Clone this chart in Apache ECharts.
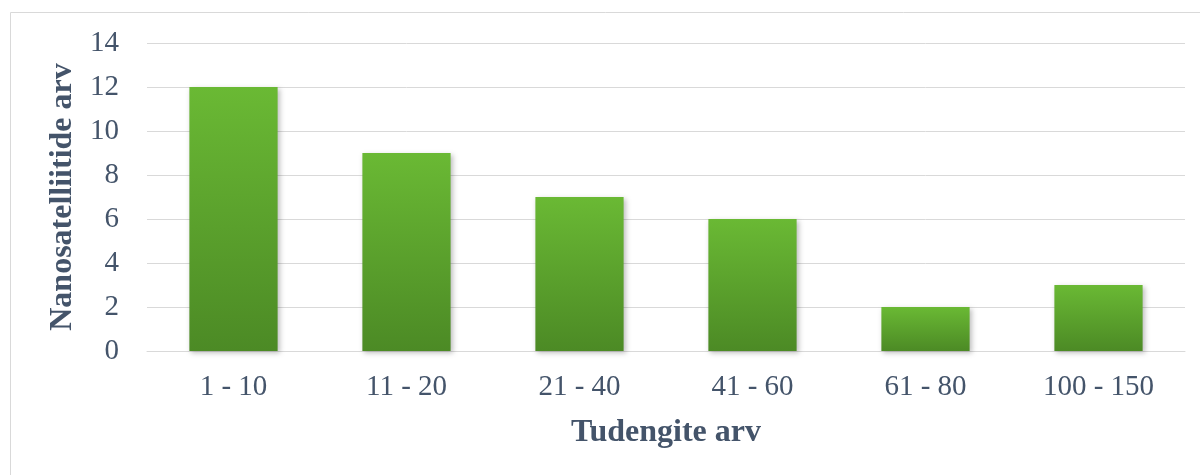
<!DOCTYPE html>
<html><head><meta charset="utf-8">
<script src="https://cdn.jsdelivr.net/npm/echarts@6/dist/echarts.min.js"></script>
<style>html,body{margin:0;padding:0;background:#fff}#c{width:1200px;height:475px}</style>
</head><body><div id="c"></div>
<script>
const categories = ['1 - 10', '11 - 20', '21 - 40', '41 - 60', '61 - 80', '100 - 150'];
const values = [12, 9, 7, 6, 2, 3];
const yTicks = {min: 0, max: 14, interval: 2};
const xAxisTitle = 'Tudengite arv';
const yAxisTitle = 'Nanosatelliitide arv';

const chart = echarts.init(document.getElementById('c'));
const txt = '#44546a';
const font = '"Liberation Serif", "Times New Roman", serif';
chart.setOption({
  animation: false,
  graphic: [{type: 'rect', shape: {x: 10.5, y: 12.5, width: 1250, height: 500}, style: {fill: 'none', stroke: '#d9d9d9', lineWidth: 1}, z: -1}],
  grid: {left: 147, right: 15, top: 43, bottom: 124, containLabel: false},
  xAxis: {
    type: 'category', data: categories,
    name: xAxisTitle, nameLocation: 'middle', nameGap: 66,
    nameTextStyle: {color: txt, fontFamily: font, fontSize: 32, fontWeight: 'bold'},
    axisLine: {show: true, lineStyle: {color: '#d9d9d9', width: 1}},
    axisTick: {show: false},
    axisLabel: {color: txt, fontFamily: font, fontSize: 29, margin: 22}
  },
  yAxis: {
    type: 'value', min: yTicks.min, max: yTicks.max, interval: yTicks.interval,
    name: yAxisTitle, nameLocation: 'middle', nameGap: 68,
    nameTextStyle: {color: txt, fontFamily: font, fontSize: 32, fontWeight: 'bold'},
    axisLine: {show: false}, axisTick: {show: false},
    axisLabel: {color: txt, fontFamily: font, fontSize: 29, margin: 28},
    splitLine: {lineStyle: {color: '#d9d9d9', width: 1}}
  },
  series: [{
    type: 'bar', data: values, barWidth: '51%',
    itemStyle: {
      color: new echarts.graphic.LinearGradient(0, 0, 0, 1, [
        {offset: 0, color: '#6ab934'}, {offset: 1, color: '#4c8a25'}
      ]),
      shadowColor: 'rgba(0,0,0,0.25)', shadowBlur: 5, shadowOffsetX: 2, shadowOffsetY: 2
    }
  }]
});
</script></body></html>
